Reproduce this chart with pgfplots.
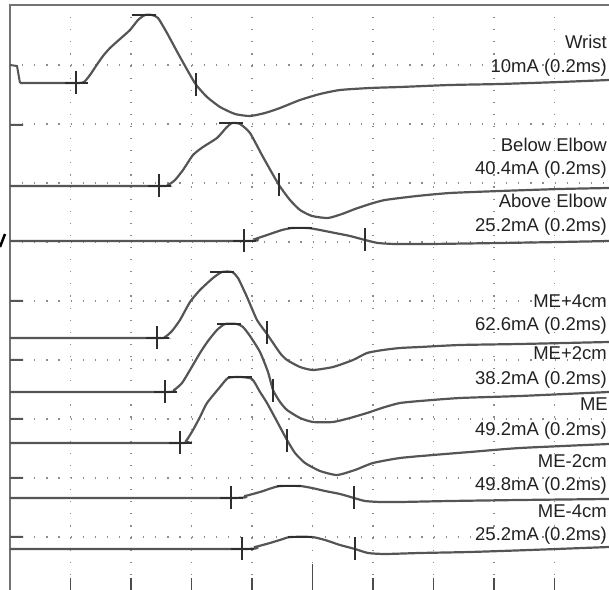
\documentclass[border=0pt]{standalone}
\usepackage{pgfplots}
\pgfplotsset{compat=1.18}
\usepackage{fontspec}
\setmainfont{Liberation Sans}
\definecolor{trace}{HTML}{555555}
\definecolor{mk}{HTML}{2E2E2E}
\definecolor{txt}{HTML}{222222}
\tikzset{lbl/.style={font=\fontsize{18.5bp}{20bp}\selectfont, text=txt, inner sep=0pt, anchor=base east}}
\pgfplotsset{tr/.style={trace, line width=2.2bp, smooth, tension=0.35}}
\begin{document}
\begin{tikzpicture}
\begin{axis}[name=ax, scale only axis, width=609bp, height=590bp,
  xmin=0, xmax=609, ymin=0, ymax=590, y dir=reverse,
  axis line style={draw=none}, xtick=\empty, ytick=\empty,
  clip=false]
% grid (dotted)
\addplot[black!45, line width=1.2bp, dash pattern=on 1.2bp off 10.9bp, unbounded coords=jump] coordinates {
 (70.5,5) (70.5,590) (0,nan) (131,5) (131,590) (0,nan) (191.5,5) (191.5,590) (0,nan)
 (252,5) (252,590) (0,nan) (312.5,5) (312.5,590) (0,nan) (373,5) (373,590) (0,nan)
 (433.5,5) (433.5,590) (0,nan) (494,5) (494,590) (0,nan) (554.5,5) (554.5,590) (0,nan)
 (10,65) (609,65) (0,nan) (10,124) (609,124) (0,nan) (10,183) (609,183) (0,nan)
 (10,242) (609,242) (0,nan) (10,301) (609,301) (0,nan) (10,360) (609,360) (0,nan)
 (10,419) (609,419) (0,nan) (10,478) (609,478) (0,nan) (10,537) (609,537)};
% frame
\addplot[black!55, line width=1.1bp] coordinates {(10,590) (10,5) (609,5)};
% bottom ticks
\addplot[black!70, line width=1.2bp, unbounded coords=jump] coordinates {
 (70.5,578) (70.5,590) (0,nan) (131,578) (131,590) (0,nan) (191.5,578) (191.5,590) (0,nan)
 (252,578) (252,590) (0,nan) (312.5,564) (312.5,590) (0,nan) (373,578) (373,590) (0,nan)
 (433.5,578) (433.5,590) (0,nan) (494,578) (494,590) (0,nan) (554.5,578) (554.5,590)};
% left dashes
\addplot[trace, line width=2bp, unbounded coords=jump] coordinates {
 (10,65) (17,66) (20,83) (0,nan) (10,125) (23,125) (0,nan) (10,301) (23,301) (0,nan)
 (10,360) (23,360) (0,nan) (10,419) (23,419) (0,nan) (10,478) (23,478) (0,nan) (10,537) (23,537)};
\addplot[black, line width=2.5bp] coordinates {(0,247) (5,234)};
% Wrist
\addplot[tr] coordinates {
 (20,83) (76,83) (84,82) (90,75) (96,66) (103,56) (110,48) (120,39) (130,30) (138,20) (145,15) (152,15)
 (158,18) (167,33) (180,57) (193,80) (197,86) (207,97) (220,107) (235,114) (250,116) (265,113)
 (280,108) (300,100) (320,94) (340,90) (370,88) (400,87) (450,85) (500,84) (560,82) (609,80)};
% Below Elbow
\addplot[tr] coordinates {
 (10,186) (159,186) (168,185) (175,180) (183,170) (193,155) (203,147) (217,138) (226,128) (232,123)
 (240,124) (250,133) (263,157) (279,185) (290,200) (300,210) (312,216) (328,218) (342,214) (355,209)
 (370,204) (385,200) (417,196) (450,193) (500,191) (560,189) (609,188)};
% Above Elbow
\addplot[tr] coordinates {
 (10,241) (244,241) (255,239) (270,234) (282,230) (292,228) (308,228) (320,230) (335,233) (350,236)
 (365,240) (378,243) (395,244) (430,244) (500,243) (560,242) (609,241)};
% ME+4cm
\addplot[tr] coordinates {
 (10,338) (157,338) (165,337) (172,331) (180,320) (190,302) (200,290) (213,278) (222,272) (232,272)
 (238,278) (247,297) (257,320) (267,334) (280,353) (287,360) (300,367) (313,370) (333,367) (353,360)
 (367,353) (383,350) (400,348) (420,347) (460,345) (520,344) (609,342)};
% ME+2cm
\addplot[tr] coordinates {
 (10,392) (165,392) (174,390) (182,383) (190,370) (200,353) (208,341) (217,330) (225,324) (237,324)
 (243,327) (250,336) (260,352) (268,372) (273,390) (280,402) (287,410) (300,418) (313,422) (333,422)
 (350,418) (367,413) (385,407) (400,403) (420,401) (460,398) (520,396) (609,392)};
% ME
\addplot[tr] coordinates {
 (10,443) (180,443) (186,441) (193,430) (200,417) (207,403) (220,387) (228,378) (240,377) (252,379)
 (260,392) (267,403) (280,427) (287,440) (295,453) (305,463) (320,471) (337,475) (355,470) (373,463)
 (400,458) (433,455) (470,452) (520,448) (609,444)};
% ME-2cm
\addplot[tr] coordinates {
 (10,498) (231,498) (245,496) (260,492) (272,488) (280,486) (300,486) (312,488) (325,491) (340,494)
 (354,498) (365,501) (380,502) (400,502) (450,501) (520,500) (609,499)};
% ME-4cm
\addplot[tr] coordinates {
 (10,549) (242,549) (255,547) (270,543) (283,539) (290,537) (312,537) (325,540) (340,545) (355,549)
 (368,553) (385,554) (420,553) (470,552) (530,550) (609,547)};
% onset markers
\addplot[only marks, mark=+, mark size=11.5bp, mk, mark options={line width=2.2bp}] coordinates {
 (76,83) (159,186) (244,241) (157,338) (165,392) (180,443) (231,498) (242,549)};
% peak bars
\addplot[only marks, mark=-, mark size=12bp, mk, mark options={line width=2.8bp}] coordinates {
 (144,15) (231,123) (300,228) (222,272) (229,324) (240,377) (289,486) (300,537)};
% end markers
\addplot[only marks, mark=|, mark size=11.5bp, mk, mark options={line width=2.2bp}] coordinates {
 (196,85) (279,185) (365,240) (267,333) (273,391) (287,441) (354,498) (355,549)};
% labels
\node[lbl] at (axis cs:607,49) {Wrist};
\node[lbl] at (axis cs:607,73) {10mA (0.2ms)};
\node[lbl] at (axis cs:607,152) {Below Elbow};
\node[lbl] at (axis cs:607,175) {40.4mA (0.2ms)};
\node[lbl] at (axis cs:607,208) {Above Elbow};
\node[lbl] at (axis cs:607,232) {25.2mA (0.2ms)};
\node[lbl] at (axis cs:607,308) {ME+4cm};
\node[lbl] at (axis cs:607,331) {62.6mA (0.2ms)};
\node[lbl] at (axis cs:607,360) {ME+2cm};
\node[lbl] at (axis cs:607,385) {38.2mA (0.2ms)};
\node[lbl] at (axis cs:608,411) {ME};
\node[lbl] at (axis cs:607,436) {49.2mA (0.2ms)};
\node[lbl] at (axis cs:607,468) {ME-2cm};
\node[lbl] at (axis cs:607,491) {49.8mA (0.2ms)};
\node[lbl] at (axis cs:607,518) {ME-4cm};
\node[lbl] at (axis cs:607,541) {25.2mA (0.2ms)};
\end{axis}
\pgfresetboundingbox
\path (ax.south west) rectangle (ax.north east);
\end{tikzpicture}
\end{document}
